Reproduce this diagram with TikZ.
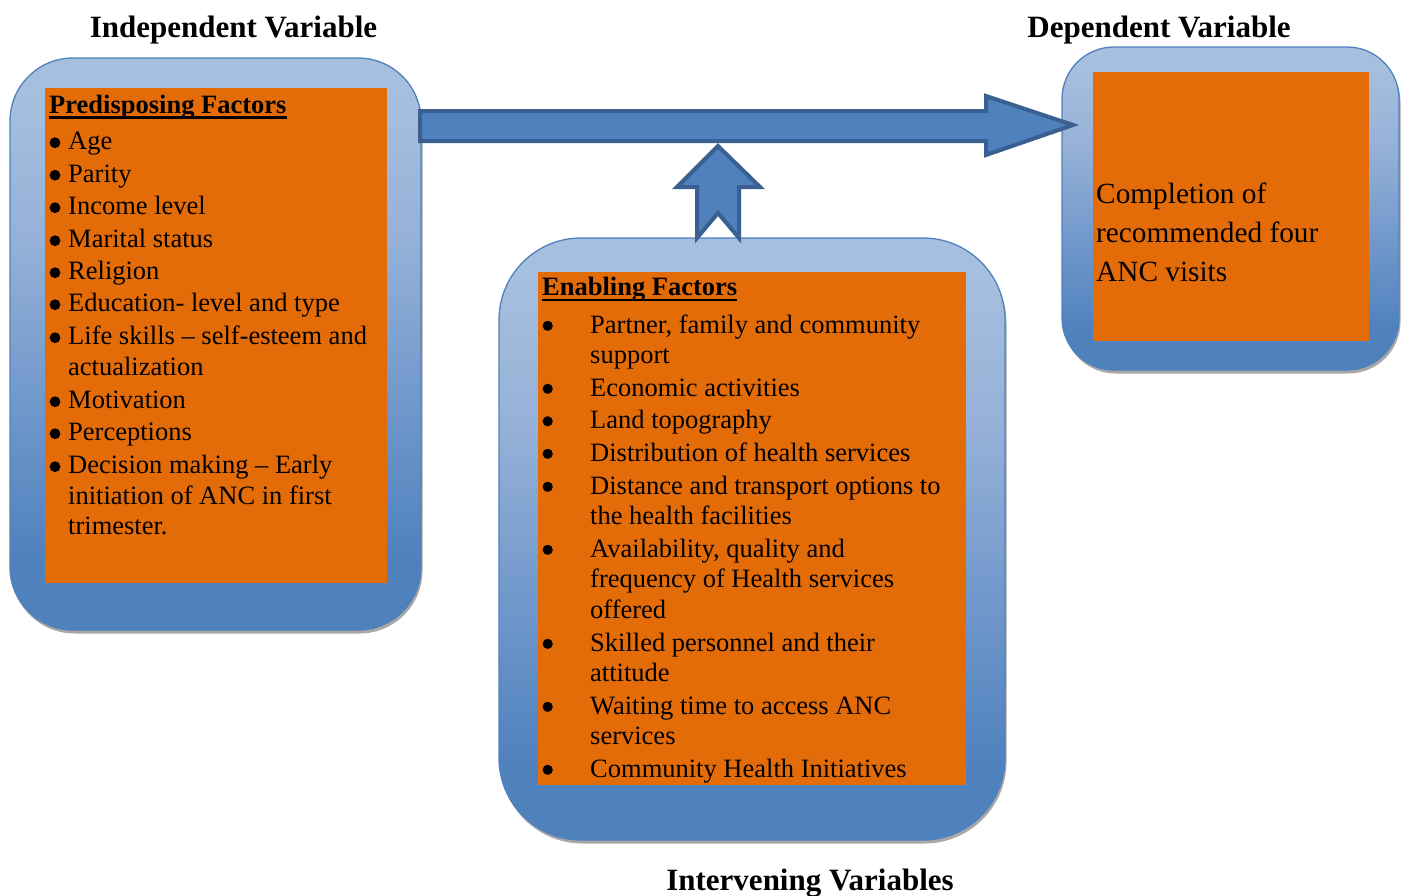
\documentclass[tikz,border=0pt]{standalone}
\usepackage{fontspec}
\setmainfont{Liberation Serif}
\usetikzlibrary{shadows}
\definecolor{accblue}{HTML}{4F81BD}
\definecolor{acclight}{HTML}{A7BFDE}
\definecolor{accmid}{HTML}{97B2D8}
\definecolor{accmid2}{HTML}{7198CB}
\definecolor{arrline}{HTML}{3A6091}
\definecolor{boxorange}{HTML}{E36C09}
\definecolor{shadowgray}{HTML}{A8A8A8}
\pgfdeclareverticalshading{boxshade}{100bp}{color(0bp)=(accblue); color(31bp)=(accblue); color(45bp)=(accmid2); color(60bp)=(accmid); color(72bp)=(acclight); color(100bp)=(acclight)}
\begin{document}
\begin{tikzpicture}[x=1pt,y=-1pt,
  outerbox/.style={draw=accblue, line width=1.3pt, shading=boxshade, inner sep=0pt,
    drop shadow={shadow xshift=1.5pt, shadow yshift=-3.5pt, fill=shadowgray, opacity=1}},
  innerbox/.style={fill=boxorange, inner sep=0pt},
  bodytext/.style={inner sep=0pt, anchor=base west, align=left, font=\fontsize{26.5}{30.5}\selectfont},
  bigtext/.style={inner sep=0pt, anchor=base west, font=\fontsize{29.3}{39}\selectfont},
  headtext/.style={inner sep=0pt, anchor=base, font=\bfseries\fontsize{31}{36}\selectfont},
  factorhead/.style={inner sep=0pt, anchor=base west, font=\bfseries\fontsize{26.5}{30.5}\selectfont},
  headrule/.style={line width=2.6pt},
  bulletdot/.style={fill=black},
  blockarrow/.style={fill=accblue, draw=arrline, line width=4pt, line join=miter}]
\useasboundingbox (0,0) rectangle (1407,895);

% outer boxes
\node[outerbox, rounded corners=63pt, minimum width=411pt, minimum height=572pt] (L) at (215.5,344) {};
\node[outerbox, rounded corners=82pt, minimum width=506pt, minimum height=602pt] (E) at (752,539) {};
\node[outerbox, rounded corners=52pt, minimum width=337pt, minimum height=323pt] (R) at (1230.5,208.5) {};

% inner boxes
\node[innerbox, minimum width=342pt, minimum height=495pt] (Li) at (216,335.5) {};
\node[innerbox, minimum width=428pt, minimum height=513pt] (Ei) at (752,528.5) {};
\node[innerbox, minimum width=276pt, minimum height=269pt] (Ri) at (1231,206.5) {};

% arrows
\coordinate (maintip) at (1073,125);
\draw[blockarrow] (420,111) -- (986,111) -- (986,96) -- (maintip) -- (986,155) -- (986,141) -- (420,141) -- cycle;
\coordinate (uptip) at (718,146);
\draw[blockarrow] (697,238) -- (697,187) -- (677,187) -- (uptip) -- (760,187) -- (739,187) -- (739,238) -- (718,213) -- cycle;

% headings
\node[headtext] (hind) at (233.5,37) {Independent Variable};
\node[headtext] (hdep) at (1159,37) {Dependent Variable};
\node[headtext] (hint) at (810,890) {Intervening Variables};

% predisposing factors
\node[factorhead] (ph) at (49,113) {Predisposing Factors};
\draw[headrule] (ph.base west) ++(0,4.5) coordinate (phu) -- (ph.base east |- phu);
\node[bodytext] (p1) at (68,149.5) {Age};
\node[bodytext] (p2) at (68,182) {Parity};
\node[bodytext] (p3) at (68,214.5) {Income level};
\node[bodytext] (p4) at (68,247.5) {Marital status};
\node[bodytext] (p5) at (68,279.5) {Religion};
\node[bodytext] (p6) at (68,311.5) {Education- level and type};
\node[bodytext] (p7) at (68,344.5) {\parbox[t]{320pt}{Life skills – self-esteem and\\actualization}};
\node[bodytext] (p8) at (68,408.5) {Motivation};
\node[bodytext] (p9) at (68,440.5) {Perceptions};
\node[bodytext] (p10) at (68,473.5) {\parbox[t]{320pt}{Decision making – Early\\initiation of ANC in first\\trimester.}};
\foreach \n in {p1,p2,p3,p4,p5,p6,p7,p8,p9,p10}
  \fill[bulletdot] (\n.base west) ++(-13,-6.8) circle (5.4);

% enabling factors
\node[factorhead] (eh) at (542,295.5) {Enabling Factors};
\draw[headrule] (eh.base west) ++(0,4.5) coordinate (ehu) -- (eh.base east |- ehu);
\node[bodytext] (e1) at (590,333) {\parbox[t]{370pt}{Partner, family and community\\support}};
\node[bodytext] (e2) at (590,396) {Economic activities};
\node[bodytext] (e3) at (590,428.5) {Land topography};
\node[bodytext] (e4) at (590,461) {Distribution of health services};
\node[bodytext] (e5) at (590,494) {\parbox[t]{370pt}{Distance and transport options to\\the health facilities}};
\node[bodytext] (e6) at (590,557) {\parbox[t]{370pt}{Availability, quality and\\frequency of Health services\\offered}};
\node[bodytext] (e7) at (590,651) {\parbox[t]{370pt}{Skilled personnel and their\\attitude}};
\node[bodytext] (e8) at (590,714) {\parbox[t]{370pt}{Waiting time to access ANC\\services}};
\node[bodytext] (e9) at (590,777) {Community Health Initiatives};
\foreach \n in {e1,e2,e3,e4,e5,e6,e7,e8,e9}
  \fill[bulletdot] (\n.base west) ++(-42.3,-7.2) circle (5.1);

% dependent
\node[bigtext] (d1) at (1096,203) {Completion of};
\node[bigtext] (d2) at (1096,242) {recommended four};
\node[bigtext] (d3) at (1096,281) {ANC visits};
\end{tikzpicture}
\end{document}
